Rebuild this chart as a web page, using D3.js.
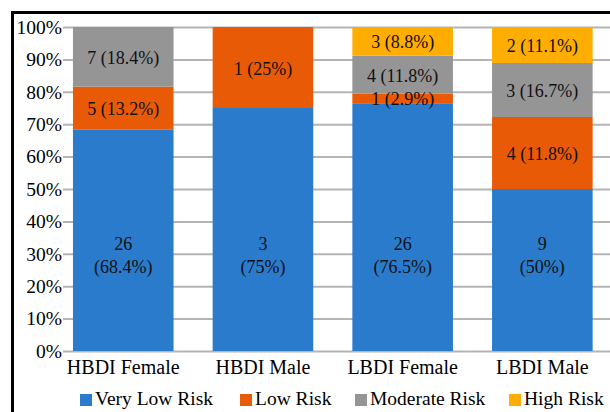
<!DOCTYPE html>
<html>
<head>
<meta charset="utf-8">
<script src="https://cdn.jsdelivr.net/npm/d3@7/dist/d3.min.js"></script>
</head>
<body style="margin:0;background:#fff">
<svg id="chart" width="610" height="412"></svg>
<script>
// Risk groups by cohort (counts); bars are shown as share of each cohort
const categories = ["HBDI Female", "HBDI Male", "LBDI Female", "LBDI Male"];
const riskLevels = ["Very Low Risk", "Low Risk", "Moderate Risk", "High Risk"];
const veryLowRisk  = [26, 3, 26, 9];
const lowRisk      = [5, 1, 1, 4];
const moderateRisk = [7, 0, 4, 3];
const highRisk     = [0, 0, 3, 2];
// Percent text printed on each segment
const veryLowPct  = ["68.4%", "75%", "76.5%", "50%"];
const lowPct      = ["13.2%", "25%", "2.9%", "11.8%"];
const moderatePct = ["18.4%", "", "11.8%", "16.7%"];
const highPct     = ["", "", "8.8%", "11.1%"];
const yTicks = [0, 0.1, 0.2, 0.3, 0.4, 0.5, 0.6, 0.7, 0.8, 0.9, 1];
const colors = ["#2b7bcd", "#e85a06", "#959595", "#ffad00"];

const FONT = "Liberation Serif";
const seriesValues = [veryLowRisk, lowRisk, moderateRisk, highRisk];
const seriesPct = [veryLowPct, lowPct, moderatePct, highPct];

const rows = categories.map((c, i) => {
  const r = { category: c, index: i };
  riskLevels.forEach((k, j) => { r[k] = seriesValues[j][i]; });
  return r;
});

const stacked = d3.stack()
  .keys(riskLevels)
  .offset(d3.stackOffsetExpand)(rows);

const svg = d3.select("#chart");

const x = d3.scaleBand()
  .domain(categories)
  .range([53.4, 612.2])
  .paddingInner(0.28)
  .paddingOuter(0.14);

const y = d3.scaleLinear().domain([0, 1]).range([351, 27]);

// Outer frame (left and top edges)
svg.append("path")
  .attr("d", "M12.5,412 V12.5 H612")
  .attr("fill", "none")
  .attr("stroke", "#000")
  .attr("stroke-width", 3);

// Gridlines with y labels
const yAxis = d3.axisLeft(y)
  .tickValues(yTicks)
  .tickFormat(d3.format(".0%"))
  .tickSize(-(612 - 63))
  .tickPadding(1);

const gy = svg.append("g")
  .attr("transform", "translate(63,0)")
  .call(yAxis);
gy.select(".domain").remove();
gy.selectAll(".tick line")
  .attr("stroke", "#b4b4b4")
  .attr("stroke-width", 2);
gy.selectAll(".tick text")
  .attr("fill", "#000")
  .attr("font-size", 19.5);

// Stacked bars
const layers = svg.append("g")
  .selectAll("g")
  .data(stacked)
  .join("g")
  .attr("fill", (d, i) => colors[i]);

layers.selectAll("rect")
  .data(d => d)
  .join("rect")
  .attr("x", d => x(d.data.category))
  .attr("width", x.bandwidth())
  .attr("y", d => y(d[1]))
  .attr("height", d => y(d[0]) - y(d[1]));

// Segment labels
const labelG = svg.append("g")
  .attr("fill", "#111")
  .attr("text-anchor", "middle");

stacked.forEach((layer, si) => {
  layer.forEach((d, ci) => {
    const count = seriesValues[si][ci];
    if (!count) return;
    const cx = x(d.data.category) + x.bandwidth() / 2;
    const pct = seriesPct[si][ci];
    if (si === 0) {
      const yc = y(0.295);
      labelG.append("text")
        .attr("x", cx).attr("y", yc - 11.5)
        .attr("dominant-baseline", "central")
        .attr("font-size", 18)
        .text(count);
      labelG.append("text")
        .attr("x", cx).attr("y", yc + 11.5)
        .attr("dominant-baseline", "central")
        .attr("font-size", 18)
        .text("(" + pct + ")");
    } else {
      labelG.append("text")
        .attr("x", cx).attr("y", y((d[0] + d[1]) / 2) + 1)
        .attr("dominant-baseline", "central")
        .attr("font-size", 18)
        .text(count + " (" + pct + ")");
    }
  });
});

// Category axis labels
svg.append("g")
  .selectAll("text")
  .data(categories)
  .join("text")
  .attr("x", d => x(d) + x.bandwidth() / 2)
  .attr("y", 374)
  .attr("text-anchor", "middle")
  .attr("font-size", 20)
  .attr("fill", "#000")
  .text(d => d);

// Legend
const legendX = [80, 240, 355, 509];
const legend = svg.append("g")
  .selectAll("g")
  .data(riskLevels)
  .join("g")
  .attr("transform", (d, i) => `translate(${legendX[i]},394)`);
legend.append("rect")
  .attr("width", 12).attr("height", 12)
  .attr("fill", (d, i) => colors[i]);
legend.append("text")
  .attr("x", 15).attr("y", 11)
  .attr("font-size", 19.5)
  .attr("fill", "#000")
  .text(d => d);

// Serif face on every text element
svg.selectAll("text").attr("font-family", FONT);
</script>
</body>
</html>
